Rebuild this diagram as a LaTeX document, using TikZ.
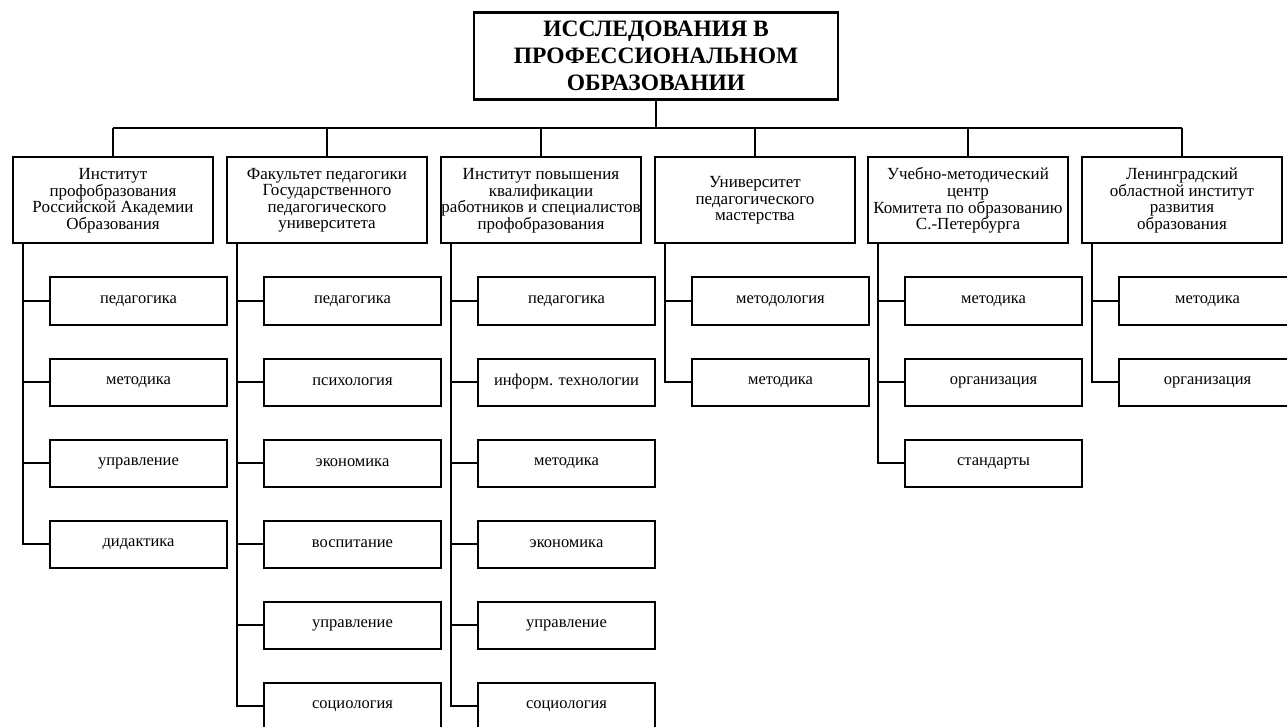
\documentclass[tikz,border=0pt]{standalone}
\usepackage{fontspec}
\setmainfont{Liberation Serif}

\begin{document}
\begin{tikzpicture}[x=1pt,y=-1pt,
    top/.style={draw,line width=2.2pt,minimum width=364pt,minimum height=87pt,inner sep=0pt,align=center,font=\fontsize{23.5}{27}\selectfont\bfseries},
    head/.style={draw,line width=2pt,minimum width=200pt,minimum height=86pt,inner sep=0pt,align=center,font=\fontsize{17}{16.5}\selectfont},
    item/.style={draw,line width=2pt,minimum width=177pt,minimum height=47pt,inner sep=0pt,font=\fontsize{16.5}{16}\selectfont},
    link/.style={line width=1.1pt}]
            \useasboundingbox (0,0) rectangle (1287,727);
            \clip (0,0) rectangle (1287,727);
            \node[top] (top) at (656,56) {ИССЛЕДОВАНИЯ В\\ПРОФЕССИОНАЛЬНОМ\\ОБРАЗОВАНИИ};
            \node[head] (inst1) at (113,200.5) {Институт\\профобразования\\Российской Академии\\Образования};
            \node[head] (inst2) at (327,200.5) {Факультет педагогики\\Государственного\\педагогического\\университета};
            \node[head] (inst3) at (541,200.5) {Институт повышения\\квалификации\\работников и специалистов\\профобразования};
            \node[head] (inst4) at (755,200.5) {Университет\\педагогического\\мастерства};
            \node[head] (inst5) at (968,200.5) {Учебно-методический\\центр\\Комитета по образованию\\С.-Петербурга};
            \node[head] (inst6) at (1182,200.5) {Ленинградский\\областной институт\\развития\\образования};
            % first column
            \node[item] (a1) at (138.5,301) {педагогика};
            \node[item] (a2) at (138.5,382) {методика};
            \node[item] (a3) at (138.5,463) {управление};
            \node[item] (a4) at (138.5,544) {дидактика};
            % second column
            \node[item] (b1) at (352.5,301) {педагогика};
            \node[item] (b2) at (352.5,382) {психология};
            \node[item] (b3) at (352.5,463) {экономика};
            \node[item] (b4) at (352.5,544) {воспитание};
            \node[item] (b5) at (352.5,625) {управление};
            \node[item] (b6) at (352.5,706) {социология};
            % third column
            \node[item] (c1) at (566.5,301) {педагогика};
            \node[item] (c2) at (566.5,382) {информ. технологии};
            \node[item] (c3) at (566.5,463) {методика};
            \node[item] (c4) at (566.5,544) {экономика};
            \node[item] (c5) at (566.5,625) {управление};
            \node[item] (c6) at (566.5,706) {социология};
            % fourth column
            \node[item] (d1) at (780.5,301) {методология};
            \node[item] (d2) at (780.5,382) {методика};
            % fifth column
            \node[item] (e1) at (993.5,301) {методика};
            \node[item] (e2) at (993.5,382) {организация};
            \node[item] (e3) at (993.5,463) {стандарты};
            % sixth column
            \node[item] (f1) at (1207.5,301) {методика};
            \node[item] (f2) at (1207.5,382) {организация};
            % bus
            \coordinate (busl) at (113,128);
            \coordinate (busr) at (1182,128);
            \draw[link] (busl) -- (busr);
            \draw[link] (top) -- (top |- busl);
            \draw[link] (inst1 |- busl) -- (inst1);
            \draw[link] (inst2 |- busl) -- (inst2);
            \draw[link] (inst3 |- busl) -- (inst3);
            \draw[link] (inst4 |- busl) -- (inst4);
            \draw[link] (inst5 |- busl) -- (inst5);
            \draw[link] (inst6 |- busl) -- (inst6);
            % trunks
            \coordinate (ta) at ([xshift=11pt]inst1.south west);
            \coordinate (tb) at ([xshift=11pt]inst2.south west);
            \coordinate (tc) at ([xshift=11pt]inst3.south west);
            \coordinate (td) at ([xshift=11pt]inst4.south west);
            \coordinate (te) at ([xshift=11pt]inst5.south west);
            \coordinate (tf) at ([xshift=11pt]inst6.south west);
            \draw[link] (ta) |- (a4.west);
            \draw[link] (ta |- a1) -- (a1);
            \draw[link] (ta |- a2) -- (a2);
            \draw[link] (ta |- a3) -- (a3);
            \draw[link] (tb) |- (b6.west);
            \draw[link] (tb |- b1) -- (b1);
            \draw[link] (tb |- b2) -- (b2);
            \draw[link] (tb |- b3) -- (b3);
            \draw[link] (tb |- b4) -- (b4);
            \draw[link] (tb |- b5) -- (b5);
            \draw[link] (tc) |- (c6.west);
            \draw[link] (tc |- c1) -- (c1);
            \draw[link] (tc |- c2) -- (c2);
            \draw[link] (tc |- c3) -- (c3);
            \draw[link] (tc |- c4) -- (c4);
            \draw[link] (tc |- c5) -- (c5);
            \draw[link] (td) |- (d2.west);
            \draw[link] (td |- d1) -- (d1);
            \draw[link] (te) |- (e3.west);
            \draw[link] (te |- e1) -- (e1);
            \draw[link] (te |- e2) -- (e2);
            \draw[link] (tf) |- (f2.west);
            \draw[link] (tf |- f1) -- (f1);
        \end{tikzpicture}
\end{document}
